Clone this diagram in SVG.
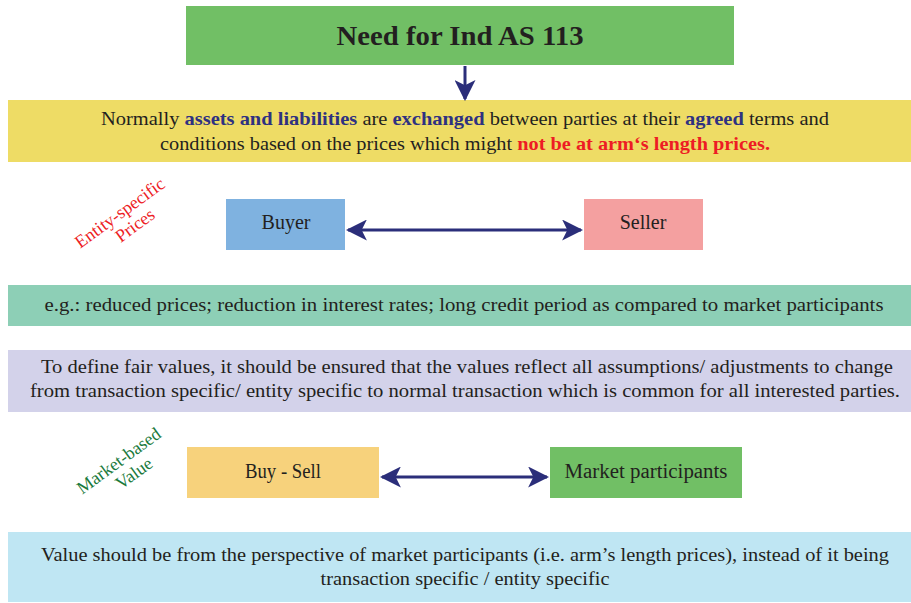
<svg xmlns="http://www.w3.org/2000/svg" width="911" height="603" viewBox="0 0 911 603">
<style>
text{font-family:"Liberation Serif","DejaVu Serif",serif;fill:#231f20;}
.t{font-size:19px;}
.c{text-anchor:middle;}
.b{font-weight:bold;fill:#2e3181;}
.r{font-weight:bold;fill:#ed1c24;}
.lbl{font-size:20px;text-anchor:middle;}
.rot{font-size:18px;text-anchor:middle;}
.conn{stroke:#2b2e7a;stroke-width:3;fill:none;}
</style>
<defs>
<marker id="ah" viewBox="0 0 20 20" refX="18" refY="10" markerWidth="7" markerHeight="7" markerUnits="strokeWidth" orient="auto-start-reverse">
<path d="M0,0 L20,10 L0,20 L5,10 Z" fill="#2b2e7a"/>
</marker>
</defs>
<rect width="911" height="603" fill="#ffffff"/>
<g id="title">
<rect x="186" y="6" width="548" height="59" fill="#71bf65"/>
<text x="460" y="45" class="c" style="font-size:27px;font-weight:bold" textLength="247" lengthAdjust="spacingAndGlyphs">Need for Ind AS 113</text>
</g>
<g id="normally">
<rect x="8" y="100" width="903" height="62" fill="#eedc65"/>
<text class="t" x="101" y="125" textLength="728" lengthAdjust="spacingAndGlyphs">Normally <tspan class="b">assets and liabilities</tspan> are <tspan class="b">exchanged</tspan> between parties at their <tspan class="b">agreed</tspan> terms and</text>
<text class="t" x="160" y="150" textLength="610" lengthAdjust="spacingAndGlyphs">conditions based on the prices which might <tspan class="r">not be at arm‘s length prices.</tspan></text>
</g>
<g id="entity-label" transform="translate(125,220) rotate(-36)">
<text x="0" y="-3" class="rot" style="fill:#ed1c24">Entity-specific</text>
<text x="5" y="16" class="rot" style="fill:#ed1c24">Prices</text>
</g>
<g id="buyer">
<rect x="226" y="199" width="119" height="51" fill="#7fb2e0"/>
<text x="286" y="229" class="lbl">Buyer</text>
</g>
<g id="seller">
<rect x="584" y="199" width="119" height="51" fill="#f4a0a0"/>
<text x="643" y="229" class="lbl">Seller</text>
</g>
<g id="eg">
<rect x="8" y="285" width="903" height="41" fill="#8dcfb6"/>
<text x="464" y="311" class="t c" textLength="839" lengthAdjust="spacingAndGlyphs">e.g.: reduced prices; reduction in interest rates;  long credit period as compared to market participants</text>
</g>
<g id="fair">
<rect x="8" y="350" width="903" height="62" fill="#d3d2ea"/>
<text x="467" y="373" class="t c" textLength="852" lengthAdjust="spacingAndGlyphs">To define fair values, it should be ensured that the values reflect all assumptions/ adjustments to change</text>
<text x="465" y="397" class="t c" textLength="870" lengthAdjust="spacingAndGlyphs">from transaction specific/ entity specific to normal transaction which is common for all interested parties.</text>
</g>
<g id="market-label" transform="translate(124,468) rotate(-36)">
<text x="0" y="-3" class="rot" style="fill:#1a7a3c">Market-based</text>
<text x="5" y="16" class="rot" style="fill:#1a7a3c">Value</text>
</g>
<g id="buysell">
<rect x="187" y="447" width="192" height="51" fill="#f7d27c"/>
<text x="283" y="478" class="lbl" textLength="76" lengthAdjust="spacingAndGlyphs">Buy - Sell</text>
</g>
<g id="participants">
<rect x="550" y="447" width="192" height="51" fill="#71bf65"/>
<text x="646" y="478" class="lbl" textLength="163" lengthAdjust="spacingAndGlyphs">Market participants</text>
</g>
<g id="value">
<rect x="8" y="532" width="903" height="70" fill="#bfe6f3"/>
<text x="465" y="561" class="t c" textLength="848" lengthAdjust="spacingAndGlyphs">Value should be from the perspective of market participants (i.e. arm’s length prices), instead of it being</text>
<text x="465" y="585" class="t c" textLength="289" lengthAdjust="spacingAndGlyphs">transaction specific / entity specific</text>
</g>
<g id="connectors">
<line x1="465" y1="66" x2="465" y2="99" class="conn" marker-end="url(#ah)"/>
<line x1="348" y1="230" x2="581" y2="230" class="conn" marker-start="url(#ah)" marker-end="url(#ah)"/>
<line x1="382" y1="477" x2="547" y2="477" class="conn" marker-start="url(#ah)" marker-end="url(#ah)"/>
</g>
</svg>
